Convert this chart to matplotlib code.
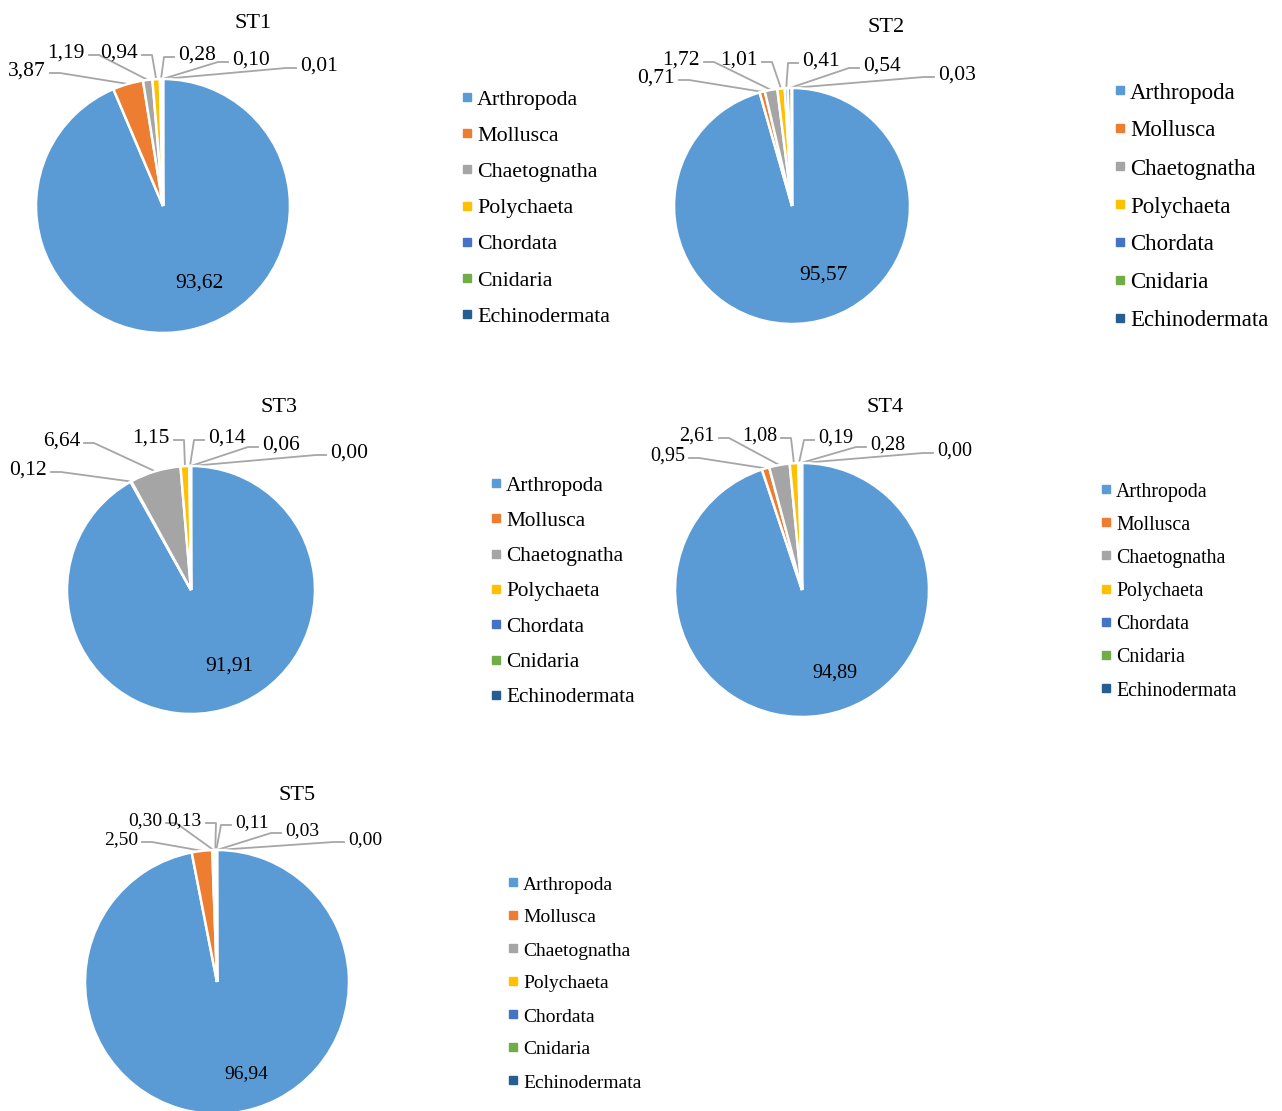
import numpy as np
import matplotlib
matplotlib.use("Agg")
import matplotlib.pyplot as plt

plt.rcParams['font.family'] = ['Liberation Serif', 'DejaVu Serif']

# data
phyla = ['Arthropoda', 'Mollusca', 'Chaetognatha', 'Polychaeta',
         'Chordata', 'Cnidaria', 'Echinodermata']
stations = ['ST1', 'ST2', 'ST3', 'ST4', 'ST5']
st1 = [93.62, 3.87, 1.19, 0.94, 0.28, 0.10, 0.01]
st2 = [95.57, 0.71, 1.72, 1.01, 0.41, 0.54, 0.03]
st3 = [91.91, 0.12, 6.64, 1.15, 0.14, 0.06, 0.00]
st4 = [94.89, 0.95, 2.61, 1.08, 0.19, 0.28, 0.00]
st5 = [96.94, 2.50, 0.30, 0.13, 0.11, 0.03, 0.00]
all_data = [st1, st2, st3, st4, st5]

colors = ['#5B9BD5', '#ED7D31', '#A5A5A5', '#FFC000',
          '#4472C4', '#70AD47', '#255E91']

# layout (pixel coords, y from the top)
W, H = 1282, 1111
centers = [(163, 206), (792, 206), (191, 590), (802, 590), (217, 982)]
radii = [127, 118, 124, 127, 132]
title_pos = [(253, 20), (886, 25), (279, 405), (885, 405), (297, 792)]
font_sizes = [15.5, 15.5, 15.5, 14.5, 14]
legend_pos = [(467, 97, 36.2, 15.8), (1120, 90, 38, 16.5), (496, 483, 35.3, 15.3),
              (1106, 489, 33.2, 14.3), (513, 882, 33, 14)]
# text edge x, text centre y for the small slices' labels
outer_pos = [
    [(46, 68), (85, 50), (138, 50), (178, 52), (232, 57), (300, 63)],
    [(675, 75), (700, 57), (758, 57), (802, 58), (863, 63), (938, 72)],
    [(47, 467), (80, 438), (170, 435), (208, 435), (262, 442), (330, 450)],
    [(685, 453), (715, 433), (777, 433), (818, 435), (870, 442), (937, 448)],
    [(138, 837), (162, 818), (202, 818), (235, 820), (285, 828), (348, 837)],
]
inner_off = [(0.29, 0.58), (0.27, 0.56), (0.31, 0.59), (0.26, 0.63), (0.22, 0.67)]
dy = 3  # text sits a bit high with va='center'


def fmt(v):
    return f"{v:.2f}".replace('.', ',')


fig = plt.figure(figsize=(W / 100, H / 100), dpi=100)
ax = fig.add_axes([0, 0, 1, 1])

for k, vals in enumerate(all_data):
    cx, cy = centers[k]
    r = radii[k]
    fs = font_sizes[k]
    wedges, _ = ax.pie(vals, colors=colors, startangle=90, counterclock=False,
                       center=(cx, H - cy), radius=r,
                       wedgeprops=dict(edgecolor='white', linewidth=1.8))
    ax.text(title_pos[k][0], H - title_pos[k][1] - dy, stations[k],
            ha='center', va='center', fontsize=16)

    # big slice label
    ox, oy = inner_off[k]
    ax.text(cx + ox * r, H - (cy + oy * r) - dy, fmt(vals[0]),
            ha='center', va='center', fontsize=fs)

    # small slice labels with leader lines
    for i in range(1, len(vals)):
        w = wedges[i]
        mid = np.deg2rad((w.theta1 + w.theta2) / 2)
        px = cx + r * np.cos(mid)
        py = H - cy + r * np.sin(mid)
        ex, ey = outer_pos[k][i - 1]
        ly = H - (ey + 5)
        if ex < px:
            ax.text(ex, H - ey - dy, fmt(vals[i]), ha='right', va='center', fontsize=fs)
            xs = [ex + 4, ex + 14, px]
        else:
            ax.text(ex, H - ey - dy, fmt(vals[i]), ha='left', va='center', fontsize=fs)
            xs = [ex - 4, ex - 14, px]
        ax.plot(xs, [ly, ly, py], color='#A6A6A6', lw=1.3, zorder=0)

    # legend
    lx, ly0, step, lfs = legend_pos[k]
    for i, name in enumerate(phyla):
        yy = H - (ly0 + i * step)
        ax.plot(lx, yy, marker='s', ms=5.5, color=colors[i], linestyle='none')
        ax.text(lx + 10, yy - dy, name, ha='left', va='center', fontsize=lfs)

ax.set_xlim(0, W)
ax.set_ylim(0, H)
ax.set_aspect('equal')
ax.axis('off')

fig.savefig('out.png', dpi=100, facecolor='white')
